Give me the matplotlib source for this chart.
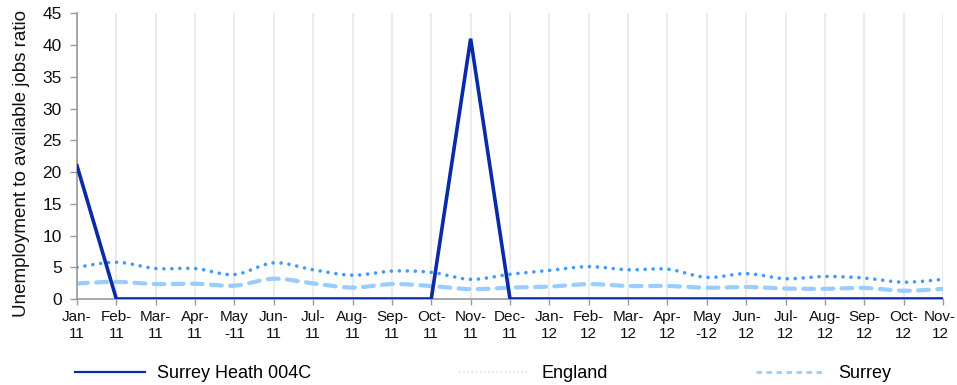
import numpy as np
import matplotlib
matplotlib.use("Agg")
import matplotlib.pyplot as plt
import matplotlib.transforms as mtransforms
from matplotlib.lines import Line2D

plt.rcParams['font.family'] = ['Liberation Sans', 'DejaVu Sans']

months = ["Jan-\n11", "Feb-\n11", "Mar-\n11", "Apr-\n11", "May\n-11", "Jun-\n11",
          "Jul-\n11", "Aug-\n11", "Sep-\n11", "Oct-\n11", "Nov-\n11", "Dec-\n11",
          "Jan-\n12", "Feb-\n12", "Mar-\n12", "Apr-\n12", "May\n-12", "Jun-\n12",
          "Jul-\n12", "Aug-\n12", "Sep-\n12", "Oct-\n12", "Nov-\n12"]

surrey_heath = [21, 0, 0, 0, 0, 0, 0, 0, 0, 0, 41, 0,
                0, 0, 0, 0, 0, 0, 0, 0, 0, 0, 0]
england = [5.0, 5.8, 4.8, 4.8, 3.85, 5.7, 4.6, 3.75, 4.4, 4.2, 3.1, 3.9,
           4.5, 5.1, 4.6, 4.7, 3.4, 4.0, 3.2, 3.55, 3.3, 2.65, 3.1]
surrey = [2.45, 2.7, 2.35, 2.4, 2.1, 3.2, 2.45, 1.8, 2.35, 2.05, 1.55, 1.8,
          1.95, 2.35, 2.05, 2.05, 1.77, 1.9, 1.65, 1.6, 1.75, 1.3, 1.6]

series_names = ["Surrey Heath 004C", "England", "Surrey"]


def smooth_curve(y, samples=20):
    """Draw a smoothed path through the points (Bezier segments with
    Catmull-Rom style control points)."""
    y = np.asarray(y, dtype=float)
    x = np.arange(len(y), dtype=float)
    n = len(y)
    xs, ys = [], []
    t = np.linspace(0, 1, samples)
    for i in range(n - 1):
        i0 = max(i - 1, 0)
        i3 = min(i + 2, n - 1)
        p0 = np.array([x[i], y[i]])
        p1 = np.array([x[i + 1], y[i + 1]])
        c1 = p0 + (p1 - np.array([x[i0], y[i0]])) / 6.0
        c2 = p1 - (np.array([x[i3], y[i3]]) - p0) / 6.0
        b = ((1 - t) ** 3)[:, None] * p0 + (3 * (1 - t) ** 2 * t)[:, None] * c1 \
            + (3 * (1 - t) * t ** 2)[:, None] * c2 + (t ** 3)[:, None] * p1
        if i > 0:
            b = b[1:]
        xs.append(b[:, 0])
        ys.append(b[:, 1])
    return np.concatenate(xs), np.concatenate(ys)


fig = plt.figure(figsize=(9.57, 3.85), dpi=100)
ax = fig.add_axes([77 / 957, 86 / 385, 866 / 957, 285.7 / 385])

dark_blue = "#0A2BA6"
mid_blue = "#3D9BFF"
light_blue = "#99CCFF"

xe, ye = smooth_curve(england)
ax.plot(xe, ye, color=mid_blue, lw=2.6, linestyle=(0, (0.01, 2.2)),
        dash_capstyle='round', zorder=3)
xs_, ys_ = smooth_curve(surrey)
ax.plot(xs_, ys_, color=light_blue, lw=3.0, linestyle=(0, (2.6, 2.0)),
        dash_capstyle='round', zorder=2)
ax.plot(np.arange(len(surrey_heath)), surrey_heath, color=dark_blue, lw=2.6,
        solid_joinstyle='miter', zorder=4)

ax.set_xlim(0, len(months) - 1)
ax.set_ylim(0, 45)
ax.set_yticks(np.arange(0, 46, 5))
ax.set_xticks(np.arange(len(months)))
ax.set_xticklabels(months, fontsize=11, linespacing=1.25)
ax.tick_params(axis='y', labelsize=12.5, length=5, width=1, color="#999999",
               pad=6, labelcolor="#111111")
ax.tick_params(axis='x', length=4, width=1, color="#999999", pad=4,
               labelcolor="#111111")

# keep the last month label inside the figure edge
last = ax.get_xticklabels()[-1]
last.set_transform(last.get_transform() +
                   mtransforms.ScaledTranslation(-3 / 100, 0, fig.dpi_scale_trans))

ax.grid(axis='x', color="#E8E8E8", lw=1.2)
ax.set_axisbelow(True)
for side in ("top", "right"):
    ax.spines[side].set_visible(False)
for side in ("left", "bottom"):
    ax.spines[side].set_color("#999999")
    ax.spines[side].set_linewidth(1.2)

ax.set_ylabel("Unemployment to available jobs ratio", fontsize=13.5,
              color="#111111")
ax.yaxis.set_label_coords(-0.054, 0.474)

handles = [
    Line2D([], [], color=dark_blue, lw=1.6),
    Line2D([], [], color="#CFE5FF", lw=1.2, linestyle=(0, (1, 1.5))),
    Line2D([], [], color=light_blue, lw=2.0, linestyle=(0, (2, 1.6))),
]
fig.legend(handles, series_names, loc='center left',
           bbox_to_anchor=(75 / 957, 11 / 385), ncol=3, frameon=False,
           fontsize=13, handlelength=3.9, handletextpad=0.65,
           columnspacing=8.2, borderpad=0, borderaxespad=0)

fig.savefig("out.png", dpi=100)
